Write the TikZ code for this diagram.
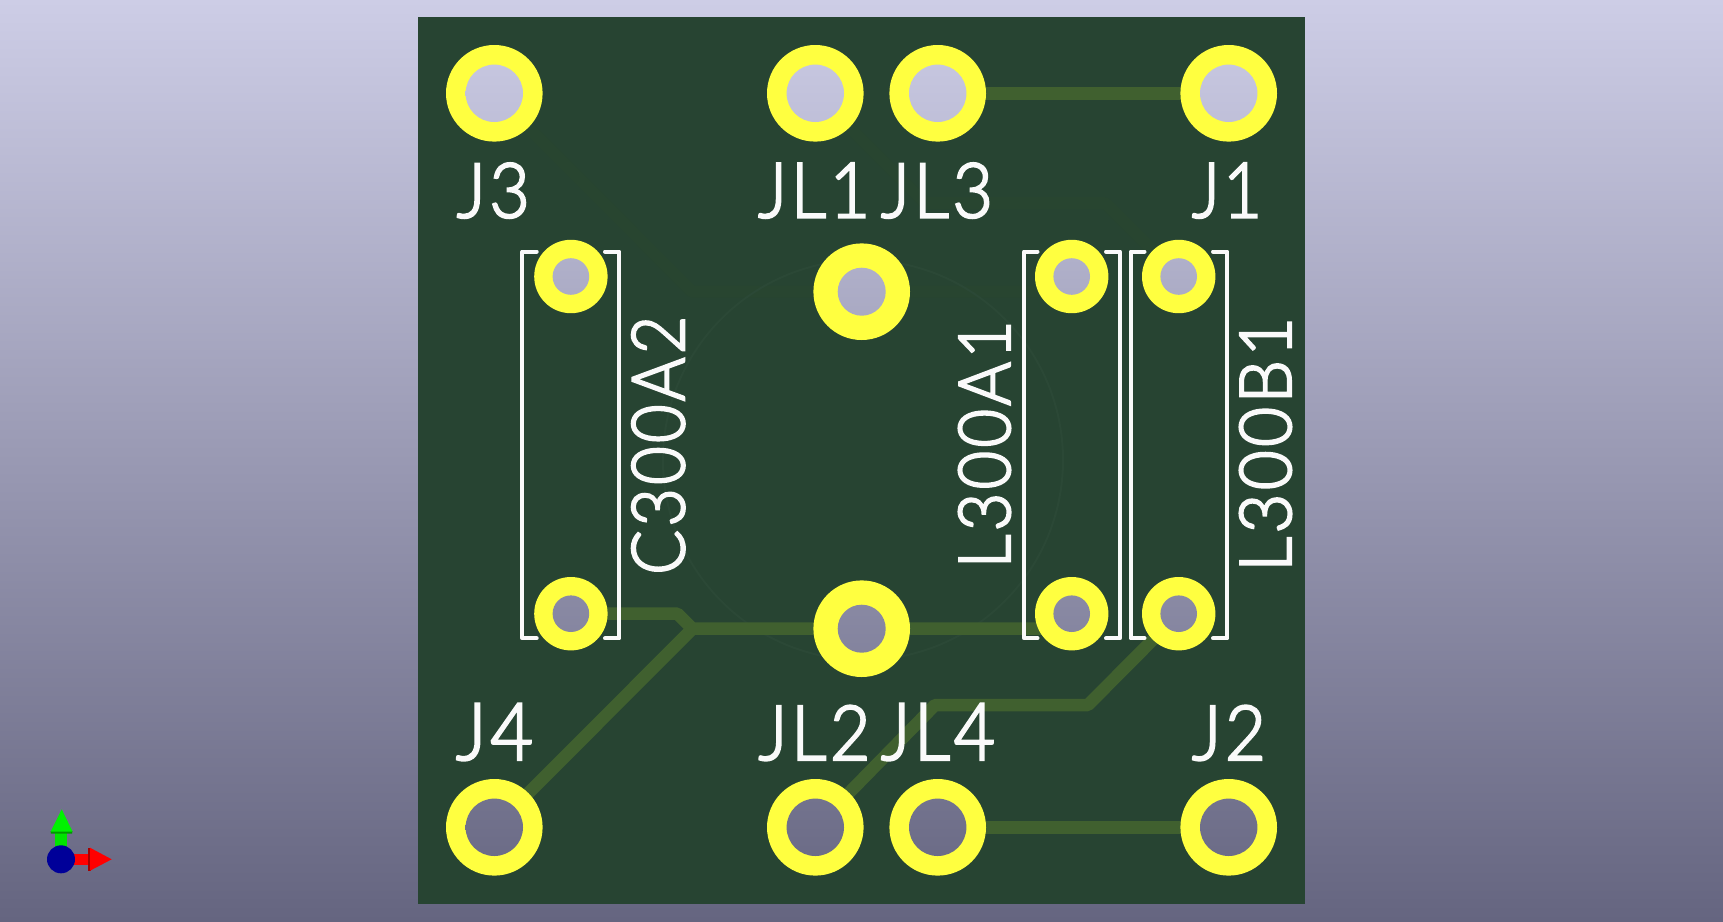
\documentclass[tikz,border=0pt]{standalone}
\usepackage{fontspec}
\usepackage{graphicx}
\setmainfont{Lato Light}[FakeBold=3,LetterSpace=5]
\definecolor{bgtop}{HTML}{CDCDE6}
\definecolor{bgbot}{HTML}{656580}
\definecolor{board}{HTML}{274432}
\definecolor{copper}{HTML}{40602F}
\definecolor{backcu}{HTML}{284530}
\definecolor{ghost}{HTML}{2B4836}
\definecolor{padyel}{HTML}{FFFF40}
\definecolor{silk}{HTML}{FAFAFA}
\tikzset{
  x=1pt,y=-1pt,
  bigpad/.style={circle,fill=padyel,draw=none,inner sep=0pt,minimum size=96.6pt},
  smallpad/.style={circle,fill=padyel,draw=none,inner sep=0pt,minimum size=73.4pt},
  trace/.style={draw=copper,line width=12.5pt,line join=bevel},
  backtrace/.style={draw=backcu,line width=12pt,line join=bevel},
  silkline/.style={draw=silk,line width=4pt,line join=round,line cap=round},
  silktext/.style={inner sep=0pt,outer sep=0pt,text=silk},
}
% name, x, y, ink width, ink height, rotation, text
\newcommand{\silk}[7]{\node[silktext,rotate=#6] (#1) at (#2,#3) {\resizebox*{#4pt}{#5pt}{#7}};}
\newcommand{\bgshade}{\shade[top color=bgtop,bottom color=bgbot] (0,0) rectangle (1723,921);}
\begin{document}
\begin{tikzpicture}
\useasboundingbox (0,0) rectangle (1723,921);
\bgshade
\fill[board] (418,17) rectangle (1305,904);
% pad centres
\coordinate (pJ3) at (494.3,93.3);
\coordinate (pJL1) at (815.3,93.3);
\coordinate (pJL3) at (937.7,93.3);
\coordinate (pJ1) at (1228.7,93.3);
\coordinate (pJ4) at (494.3,827.3);
\coordinate (pJL2) at (815.3,827.3);
\coordinate (pJL4) at (937.7,827.3);
\coordinate (pJ2) at (1228.7,827.3);
\coordinate (pT) at (861.7,291.7);
\coordinate (pB) at (861.7,628.7);
\coordinate (pC1) at (570.9,276.5);
\coordinate (pC2) at (570.9,613.7);
\coordinate (pA1) at (1071.7,276.5);
\coordinate (pA2) at (1071.7,613.7);
\coordinate (pB1) at (1178.7,276.5);
\coordinate (pB2) at (1178.7,613.7);
% faint back side copper and outline
\draw[backtrace] (pJ3) -- (692,291.7) -- (pT) -- (1071.7,291.7);
\draw[backtrace] (pJL1) -- (925,203) -- (1105,203) -- (pB1);
\draw[draw=ghost,line width=2pt] (863,460) circle (200pt);
% front copper
\coordinate (b1) at (677.5,613.7);
\coordinate (b2) at (692.5,628.7);
\coordinate (b3) at (1088,705);
\coordinate (b4) at (935,705);
\draw[trace] (pJL3) -- (pJ1);
\draw[trace] (pJL4) -- (pJ2);
\draw[trace] (pC2) -- (b1) -- (b2) -- (pB) -- (1071.7,628.7);
\draw[trace] (pJ4) -- (b2);
\draw[trace] (pJL2) -- (b4) -- (b3) -- (pB2);
% silkscreen outlines
\draw[silkline] (536.7,251.5) -- (522.3,251.5) -- (522.3,638.3) -- (536.7,638.3);
\draw[silkline] (605,251.5) -- (619.3,251.5) -- (619.3,638.3) -- (605,638.3);
\draw[silkline] (1037.5,251.5) -- (1024,251.5) -- (1024,638.3) -- (1037.5,638.3);
\draw[silkline] (1106,251.5) -- (1120,251.5) -- (1120,638.3) -- (1106,638.3);
\draw[silkline] (1144.5,251.5) -- (1130.7,251.5) -- (1130.7,638.3) -- (1144.5,638.3);
\draw[silkline] (1213,251.5) -- (1227.3,251.5) -- (1227.3,638.3) -- (1213,638.3);
% pads
\foreach \p in {J3,JL1,JL3,J1,J4,JL2,JL4,J2,T,B}{\node[bigpad] (n\p) at (p\p) {};}
\foreach \p in {C1,C2,A1,A2,B1,B2}{\node[smallpad] (n\p) at (p\p) {};}
% through holes show the background
\begin{scope}
\clip (pJ3) circle (28.7pt) (pJL1) circle (28.7pt) (pJL3) circle (28.7pt) (pJ1) circle (28.7pt)
      (pJ4) circle (28.7pt) (pJL2) circle (28.7pt) (pJL4) circle (28.7pt) (pJ2) circle (28.7pt)
      (pT) circle (24pt) (pB) circle (24pt)
      (pC1) circle (18.3pt) (pC2) circle (18.3pt) (pA1) circle (18.3pt) (pA2) circle (18.3pt)
      (pB1) circle (18.3pt) (pB2) circle (18.3pt);
\bgshade
\end{scope}
% labels
\silk{tJ3}{493.3}{190.6}{73}{55}{0}{J3}
\silk{tJL1}{814.2}{190.6}{112}{55}{0}{JL1}
\silk{tJL3}{937}{190.6}{112}{55}{0}{JL3}
\silk{tJ1}{1227}{190.6}{70}{55}{0}{J1}
\silk{tJ4}{494.5}{732}{77}{57}{0}{J4}
\silk{tJL2}{814.5}{733}{112}{55}{0}{JL2}
\silk{tJL4}{938}{732}{114}{57}{0}{JL4}
\silk{tJ2}{1229}{733}{74}{55}{0}{J2}
\silk{tC}{658.3}{445.3}{259}{53}{90}{C300A2}
\silk{tA}{984.5}{444.2}{248}{52}{90}{L300A1}
\silk{tB}{1265.5}{444.2}{255}{52}{90}{L300B1}
% axis gizmo
\fill[green!90!black] (55,828) rectangle (67,852);
\fill[green!60!black] (50.5,831) -- (72.5,831) -- (72,833.5) -- (51,833.5) -- cycle;
\fill[green!95!black] (50.7,831.5) -- (61.7,809.3) -- (72.5,831.5) -- cycle;
\fill[red] (70,854) rectangle (90,865);
\fill[red!65!black] (88,847.5) -- (91,847.5) -- (91,871) -- (88,871) -- cycle;
\fill[red] (90,847.7) -- (111.7,859.3) -- (90,870.7) -- cycle;
\fill[blue!60!black] (61,859.3) circle (14pt);
\end{tikzpicture}
\end{document}
